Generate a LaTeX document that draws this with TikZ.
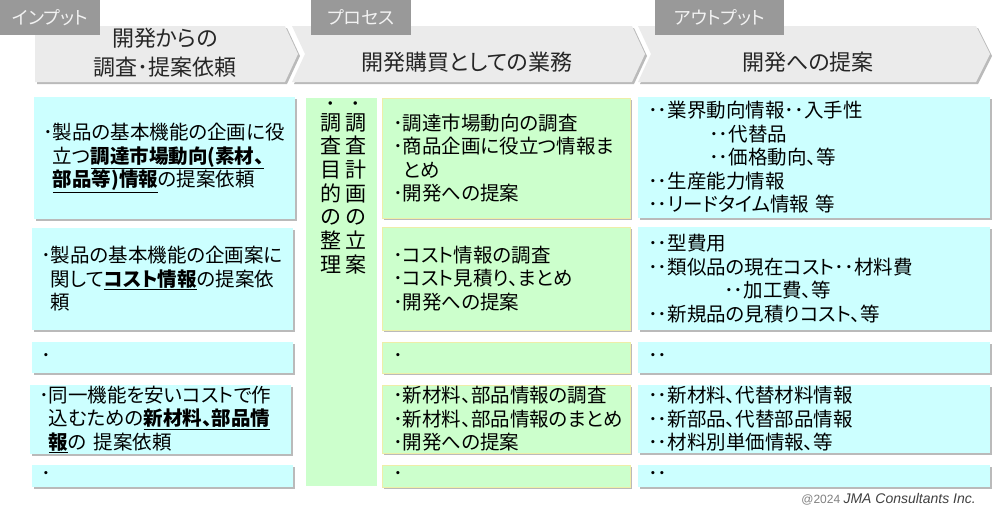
\documentclass[tikz,border=0pt]{standalone}
\usepackage{fontspec}
\setmainfont{Noto Sans CJK JP}[RawFeature=+palt]
\newfontfamily\latinsans{Liberation Sans}
\usetikzlibrary{shadows}

\definecolor{cyanbox}{HTML}{CCFFFF}
\definecolor{greenbox}{HTML}{CCFFCC}
\definecolor{chevgray}{HTML}{EBEBEB}
\definecolor{taggray}{HTML}{999999}
\definecolor{edgeyellow}{HTML}{EEEEA8}

\newcommand{\keyinfo}[1]{\underline{\textbf{#1}}}

\begin{document}
\begin{tikzpicture}[x=1pt, y=-1pt,
    boxshadow/.style={drop shadow={shadow xshift=2pt, shadow yshift=-2pt, fill=black!45, opacity=0.6}},
    tag/.style={fill=taggray, text=white!95!black, anchor=north west, minimum height=35pt, inner sep=0pt, font=\fontsize{18}{20}\selectfont},
    chev/.style={fill=chevgray, boxshadow},
    head/.style={align=center, text=black!85, font=\fontsize{22}{29}\selectfont},
    cbox/.style={fill=cyanbox, boxshadow, anchor=north west, align=left, inner ysep=1pt, inner xsep=9pt, outer sep=0pt, font=\fontsize{19.5}{23.5}\selectfont},
    lbox/.style={cbox, minimum width=261pt, text width=243pt},
    rbox/.style={cbox, inner xsep=10pt, minimum width=352pt, text width=332pt},
    pbox/.style={cbox, fill=greenbox, draw=edgeyellow, line width=1pt, inner xsep=11pt, minimum width=248pt, text width=226pt},
    vcol/.style={align=center, anchor=north, inner sep=0pt, font=\fontsize{21}{23.7}\selectfont},
    vdot/.style={inner sep=0pt, font=\fontsize{21}{23.7}\selectfont},
  ]
  \useasboundingbox (0,0) rectangle (994,506);

  % header arrows
  \path[chev] (35,26) -- (285,26) -- (298,54) -- (285,82) -- (35,82) -- cycle;
  \path[chev] (292,26) -- (632,26) -- (645,54) -- (632,82) -- (292,82) -- (305,54) -- cycle;
  \path[chev] (638,26) -- (976,26) -- (990,54) -- (976,82) -- (638,82) -- (651,54) -- cycle;

  \node[head] (inhead) at (165,53) {開発からの\\調査･提案依頼};
  \node[head] (prochead) at (467,62) {開発購買としての業務};
  \node[head] (outhead) at (808,62) {開発への提案};

  \node[tag, minimum width=100pt] (intag) at (0,0) {インプット};
  \node[tag, minimum width=100pt] (proctag) at (311,0) {プロセス};
  \node[tag, minimum width=129pt] (outtag) at (655,0) {アウトプット};

  % input column
  \node[lbox, minimum height=122pt] (in1) at (34,97) {･製品の基本機能の企画に役\\\phantom{･}立つ\keyinfo{調達市場動向(素材、}\\\phantom{･}\keyinfo{部品等)情報}の提案依頼};
  \node[lbox, minimum height=102pt] (in2) at (32,228) {･製品の基本機能の企画案に\\\phantom{･}関して\keyinfo{コスト情報}の提案依\\\phantom{･}頼};
  \node[lbox, minimum height=31pt] (in3) at (32,342) {･};
  \node[lbox, minimum height=68pt] (in4) at (30,385) {･同一機能を安いコストで作\\\phantom{･}込むための\keyinfo{新材料、部品情}\\\phantom{･}\keyinfo{報}の 提案依頼};
  \node[lbox, minimum height=22pt] (in5) at (32,465) {･};

  % planning column
  \node[fill=greenbox, anchor=north west, minimum width=71pt, minimum height=388pt, inner sep=0pt] (plan) at (306,98) {};
  \node[vdot] (planRdot) at (356,107) {･};
  \node[vdot] (planLdot) at (331,107) {･};
  \node[vcol] (planR) at (356,113) {調\\査\\計\\画\\の\\立\\案};
  \node[vcol] (planL) at (331,113) {調\\査\\目\\的\\の\\整\\理};

  % process column
  \node[pbox, minimum height=120pt] (proc1) at (382,98) {･調達市場動向の調査\\･商品企画に役立つ情報ま\\\phantom{･}とめ\\･開発への提案};
  \node[pbox, minimum height=103pt] (proc2) at (382,227) {･コスト情報の調査\\･コスト見積り、まとめ\\･開発への提案};
  \node[pbox, minimum height=31pt] (proc3) at (382,342) {･};
  \node[pbox, minimum height=68pt] (proc4) at (382,385) {･新材料、部品情報の調査\\･新材料、部品情報のまとめ\\･開発への提案};
  \node[pbox, minimum height=22pt] (proc5) at (382,465) {･};

  % output column
  \node[rbox, minimum height=121pt] (out1) at (638,97) {･･業界動向情報･･入手性\\\hspace*{61pt}･･代替品\\\hspace*{61pt}･･価格動向、等\\･･生産能力情報\\･･リードタイム情報 等};
  \node[rbox, minimum height=103pt] (out2) at (638,227) {･･型費用\\･･類似品の現在コスト･･材料費\\\hspace*{76pt}･･加工費、等\\･･新規品の見積りコスト、等};
  \node[rbox, minimum height=31pt] (out3) at (638,342) {･･};
  \node[rbox, minimum height=68pt] (out4) at (638,385) {･･新材料、代替材料情報\\･･新部品、代替部品情報\\･･材料別単価情報、等};
  \node[rbox, minimum height=22pt] (out5) at (638,465) {･･};

  \node[anchor=east, inner sep=0pt, text=black!50] (copy) at (976,499) {\latinsans\fontsize{12}{14}\selectfont @2024 {\fontsize{14}{16}\selectfont\itshape\color{black!75}JMA Consultants Inc.}};
\end{tikzpicture}
\end{document}
